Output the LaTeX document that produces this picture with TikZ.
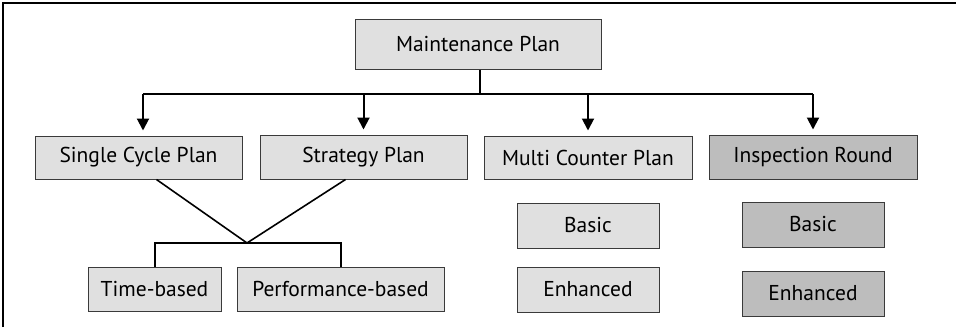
\documentclass[tikz,border=0pt]{standalone}
\usepackage{fontspec}
\setmainfont{PT Sans}
\usetikzlibrary{arrows.meta}
\definecolor{boxlight}{HTML}{E0E0E0}
\definecolor{boxdark}{HTML}{BDBDBD}
\definecolor{boxline}{HTML}{3A3A3A}
\tikzset{
  box/.style={draw=boxline, line width=1pt, fill=boxlight, rectangle, inner sep=0pt,
    font=\fontsize{21.5}{24}\selectfont, text=black},
  darkbox/.style={box, fill=boxdark},
  conn/.style={line width=2pt, black},
  arr/.style={conn, -{Triangle[length=12pt,width=12pt]}, shorten >=5pt},
}
\begin{document}
\begin{tikzpicture}[x=1pt,y=-1pt]
\useasboundingbox (0,0) rectangle (956,327);
\draw[line width=1.6pt] (3,327) -- (3,3) -- (956,3);
\node[box, minimum width=246pt, minimum height=50pt] (MP) at (478,44) {Maintenance Plan};
\node[box, minimum width=207pt, minimum height=43pt] (SC) at (138.5,157.5) {Single Cycle Plan};
\node[box, minimum width=207pt, minimum height=44pt] (ST) at (363.5,157) {Strategy Plan};
\node[box, minimum width=208pt, minimum height=43pt] (MC) at (588,157.5) {Multi Counter Plan};
\node[darkbox, minimum width=208pt, minimum height=44pt] (IR) at (813,157) {Inspection Round};
\node[box, minimum width=133pt, minimum height=44pt] (TB) at (154.5,289) {Time-based};
\node[box, minimum width=207pt, minimum height=44pt] (PB) at (340.5,289) {Performance-based};
\node[box, minimum width=142pt, minimum height=45pt] (MCB) at (588,225.5) {Basic};
\node[box, minimum width=142pt, minimum height=45pt] (MCE) at (588,289.5) {Enhanced};
\node[darkbox, minimum width=142pt, minimum height=45pt] (IRB) at (813,224.5) {Basic};
\node[darkbox, minimum width=142pt, minimum height=45pt] (IRE) at (813,293.5) {Enhanced};
% bus
\coordinate (bus) at (480,94);
\coordinate (busL) at (143,94);
\draw[conn] (MP.south -| bus) -- (bus);
\draw[conn] (busL) -- (IR.north |- bus);
\draw[arr] (busL) -- (busL |- SC.north);
\draw[arr] (ST.north |- bus) -- (ST.north);
\draw[arr] (MC.north |- bus) -- (MC.north);
\draw[arr] (IR.north |- bus) -- (IR.north);
% V junction
\coordinate (J) at (247,243);
\draw[conn, line width=1.6pt] ([xshift=18pt]SC.south) -- (J);
\draw[conn, line width=1.6pt] ([xshift=-18pt]ST.south) -- (J);
\draw[conn] (TB.north) -- (TB.north |- J) -- (PB.north |- J) -- (PB.north);
\end{tikzpicture}
\end{document}
